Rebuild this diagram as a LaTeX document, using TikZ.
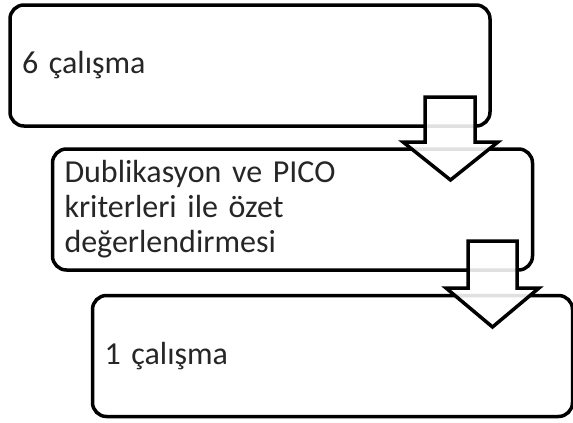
\documentclass[tikz,border=0pt]{standalone}
\usepackage{fontspec}
\setmainfont{Carlito}
\begin{document}
\begin{tikzpicture}[x=1pt,y=-1pt,
  kutu/.style = {draw, line width=3.5pt, rounded corners=14pt, fill=white, minimum width=480pt, minimum height=121pt, text width=456pt, inner xsep=12pt, align=left, text=black!85, font=\fontsize{32}{35}\selectfont},
  ok/.style = {draw, line width=3.5pt, fill=white, fill opacity=0.88, line join=miter},]
\useasboundingbox (0,0) rectangle (573,423);
\node (K1) at (250,65.5)[kutu] {6 çalışma};
\node (K2) at (292.5,209.5)[kutu] {Dublikasyon ve PICO\\kriterleri ile özet\\değerlendirmesi};
% ok 1
\draw[ok] (425,97) -- (475,97) -- (475,142) -- (498,142) -- (450.5,180) -- (403,142) -- (425,142) -- cycle;
\node (K3) at (332.5,356)[kutu] {1 çalışma};
% ok 2
\draw[ok] (468,241) -- (517,241) -- (517,288) -- (539,288) -- (492.5,327) -- (446,288) -- (468,288) -- cycle;
\end{tikzpicture}
\end{document}
